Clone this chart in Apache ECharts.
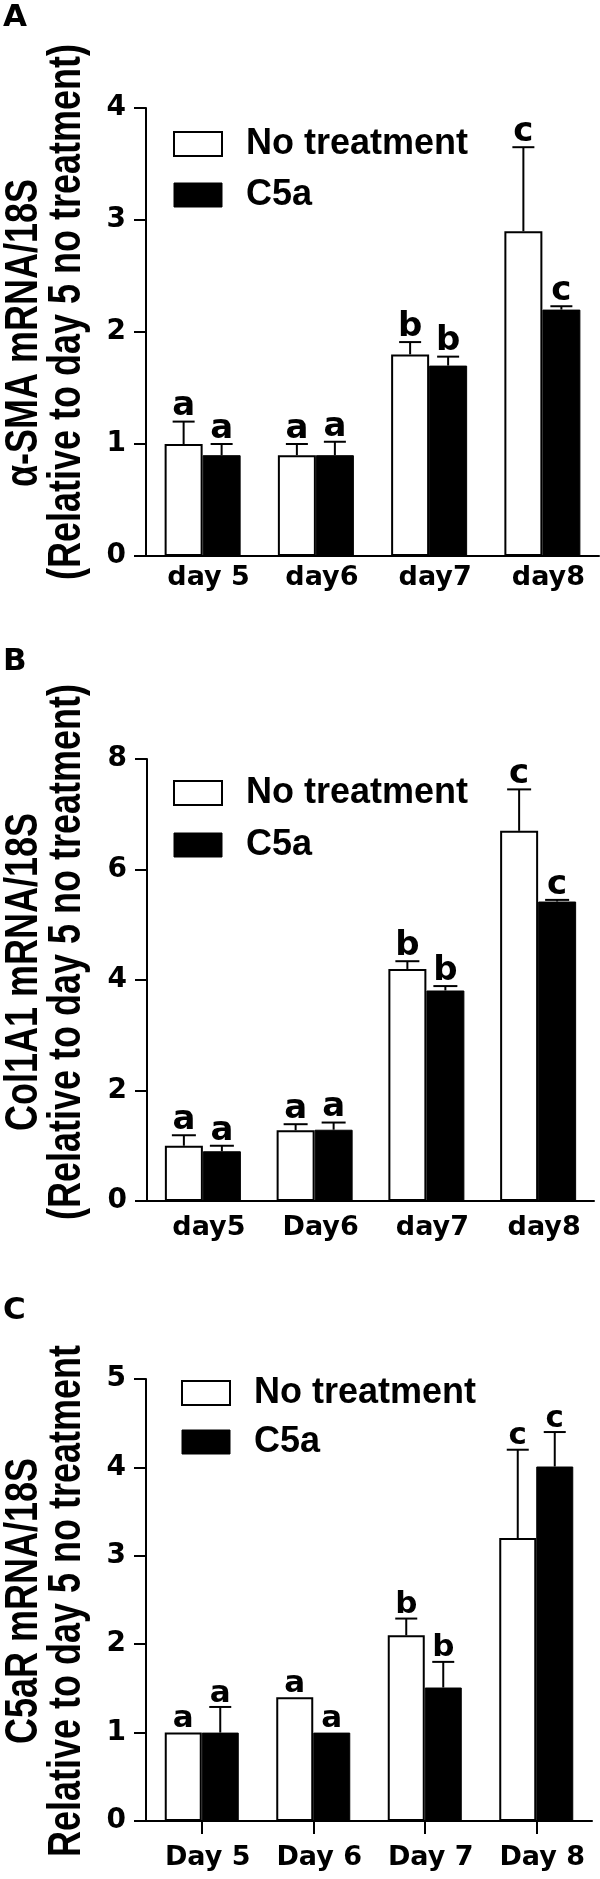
<!DOCTYPE html>
<html><head><meta charset="utf-8">
<script src="https://cdn.jsdelivr.net/npm/echarts@6/dist/echarts.min.js"></script>
<style>html,body{margin:0;padding:0;background:#fff}#c{width:600px;height:1879px}</style>
</head><body><div id="c"></div>
<script>
// ---------------- data ----------------
const seriesNames = ['No treatment', 'C5a'];

const catsA = ['day 5', 'day6', 'day7', 'day8'];
const yTicksA = [0, 1, 2, 3, 4];
const noTreatA = [1.0, 0.9, 1.8, 2.9];
const noTreatSemA = [0.2, 0.1, 0.11, 0.75];
const c5aA = [0.9, 0.9, 1.7, 2.2];
const c5aSemA = [0.1, 0.12, 0.08, 0.03];
const lettersNoTreatA = ['a', 'a', 'b', 'c'];
const lettersC5aA = ['a', 'a', 'b', 'c'];

const catsB = ['day5', 'Day6', 'day7', 'day8'];
const yTicksB = [0, 2, 4, 6, 8];
const noTreatB = [1.0, 1.28, 4.2, 6.7];
const noTreatSemB = [0.19, 0.11, 0.14, 0.75];
const c5aB = [0.9, 1.29, 3.81, 5.42];
const c5aSemB = [0.1, 0.13, 0.08, 0.03];
const lettersNoTreatB = ['a', 'a', 'b', 'c'];
const lettersC5aB = ['a', 'a', 'b', 'c'];

const catsC = ['Day 5', 'Day 6', 'Day 7', 'Day 8'];
const yTicksC = [0, 1, 2, 3, 4, 5];
const noTreatC = [1.0, 1.4, 2.1, 3.2];
const noTreatSemC = [0, 0, 0.19, 1.0];
const c5aC = [1.0, 1.0, 1.51, 4.01];
const c5aSemC = [0.29, 0, 0.29, 0.39];
const lettersNoTreatC = ['a', 'a', 'b', 'c'];
const lettersC5aC = ['a', 'a', 'b', 'c'];

const titlesA = ['\u03b1-SMA mRNA/18S', '(Relative to day 5 no treatment)'];
const titlesB = ['Col1A1 mRNA/18S', '(Relative to day 5 no treatment)'];
const titlesC = ['C5aR mRNA/18S', 'Relative to day 5 no treatment'];
const panelLetters = ['A', 'B', 'C'];

// ---------------- layout ----------------
const FONT = '"Liberation Sans", Arial, Helvetica, sans-serif';
const WIDE = '"DejaVu Sans", Verdana, sans-serif';
const panels = [
  {cats: catsA, ticks: yTicksA, m0: noTreatA, s0: noTreatSemA, m1: c5aA, s1: c5aSemA, l0: lettersNoTreatA, l1: lettersC5aA,
   grid: {left: 146, top: 108, width: 453, height: 448}, barW: 38, xMargin: 8, xTick: false, letterSize: 34, cap: 11,
   legend: {left: 173, top: 126, gap: 15}, titles: titlesA, tY: [333, 312], letterY: 2},
  {cats: catsB, ticks: yTicksB, m0: noTreatB, s0: noTreatSemB, m1: c5aB, s1: c5aSemB, l0: lettersNoTreatB, l1: lettersC5aB,
   grid: {left: 147, top: 759, width: 447, height: 442}, barW: 38, xMargin: 13, xTick: false, letterSize: 34, cap: 12,
   legend: {left: 173, top: 775, gap: 16}, titles: titlesB, tY: [972, 952], letterY: 646},
  {cats: catsC, ticks: yTicksC, m0: noTreatC, s0: noTreatSemC, m1: c5aC, s1: c5aSemC, l0: lettersNoTreatC, l1: lettersC5aC,
   grid: {left: 146, top: 1379, width: 446, height: 442}, barW: 37, xMargin: 23, xTick: true, letterSize: 31, cap: 11,
   legend: {left: 181, top: 1375, gap: 13}, titles: titlesC, tY: [1601, 1601], letterY: 1295}
];

function errRenderer(means, sems, letters, offset, capHalf, fontSize) {
  return function (params, api) {
    const i = params.dataIndex;
    const base = api.coord([i, means[i]]);
    const top = api.coord([i, means[i] + sems[i]]);
    const x = base[0] + offset;
    const children = [];
    if (sems[i] > 0) {
      children.push({type: 'line', shape: {x1: x, y1: base[1], x2: x, y2: top[1]}, style: {stroke: '#000', lineWidth: 2}});
      children.push({type: 'line', shape: {x1: x - capHalf, y1: top[1], x2: x + capHalf, y2: top[1]}, style: {stroke: '#000', lineWidth: 2}});
    }
    children.push({type: 'text', x: x, y: top[1] + 2,
      style: {text: letters[i], textAlign: 'center', textVerticalAlign: 'bottom',
              font: 'bold ' + fontSize + 'px ' + WIDE, fill: '#000'}});
    return {type: 'group', children: children};
  };
}

const grids = [], xAxes = [], yAxes = [], series = [], legends = [], graphics = [];
panels.forEach(function (p, k) {
  grids.push(Object.assign({containLabel: false}, p.grid));
  xAxes.push({
    type: 'category', gridIndex: k, data: p.cats,
    axisLine: {lineStyle: {color: '#000', width: 2}},
    axisTick: {show: p.xTick, alignWithLabel: true, length: 13, lineStyle: {color: '#000', width: 2}},
    axisLabel: {color: '#000', fontSize: 27, fontWeight: 'bold', fontFamily: WIDE, margin: p.xMargin, padding: [0, 0, 0, 12], interval: 0}
  });
  const t = p.ticks;
  yAxes.push({
    type: 'value', gridIndex: k, min: t[0], max: t[t.length - 1], interval: t[1] - t[0],
    axisLine: {show: true, lineStyle: {color: '#000', width: 2}},
    axisTick: {show: true, length: 12, lineStyle: {color: '#000', width: 2}},
    axisLabel: {color: '#000', fontSize: 28, fontWeight: 'bold', fontFamily: WIDE, margin: 20},
    splitLine: {show: false}
  });
  series.push({
    name: seriesNames[0], type: 'bar', xAxisIndex: k, yAxisIndex: k, data: p.m0,
    barWidth: p.barW, barGap: '0%',
    itemStyle: {color: '#fff', borderColor: '#000', borderWidth: 2}, emphasis: {disabled: true}
  });
  series.push({
    name: seriesNames[1], type: 'bar', xAxisIndex: k, yAxisIndex: k, data: p.m1,
    barWidth: p.barW, barGap: '0%',
    itemStyle: {color: '#000', borderColor: '#000', borderWidth: 1}, emphasis: {disabled: true}
  });
  series.push({
    type: 'custom', xAxisIndex: k, yAxisIndex: k, z: 5,
    data: p.m0.map(function (v, i) { return [i, v + p.s0[i]]; }),
    renderItem: errRenderer(p.m0, p.s0, p.l0, -p.barW / 2, p.cap, p.letterSize)
  });
  series.push({
    type: 'custom', xAxisIndex: k, yAxisIndex: k, z: 5,
    data: p.m1.map(function (v, i) { return [i, v + p.s1[i]]; }),
    renderItem: errRenderer(p.m1, p.s1, p.l1, p.barW / 2, p.cap, p.letterSize)
  });
  legends.push({
    orient: 'vertical', left: p.legend.left, top: p.legend.top, padding: 0,
    itemWidth: 48, itemHeight: 24, itemGap: p.legend.gap, selectedMode: false,
    data: [
      {name: seriesNames[0], icon: 'rect', itemStyle: {color: '#fff', borderColor: '#000', borderWidth: 2}},
      {name: seriesNames[1], icon: 'rect', itemStyle: {color: '#000', borderColor: '#000', borderWidth: 1}}
    ],
    textStyle: {color: '#000', fontSize: 36, fontWeight: 'bold', fontFamily: FONT, lineHeight: 36, padding: [0, 0, 0, 19]}
  });
  graphics.push({type: 'text', left: 3, top: p.letterY,
    style: {text: panelLetters[k], font: 'bold 31px ' + WIDE, fill: '#000'}});
  graphics.push({type: 'text', x: 24, y: p.tY[0], rotation: Math.PI / 2, scaleY: 1.3,
    style: {text: p.titles[0], textAlign: 'center', textVerticalAlign: 'middle', font: 'bold 36px ' + FONT, fill: '#000'}});
  graphics.push({type: 'text', x: 67, y: p.tY[1], rotation: Math.PI / 2, scaleY: 1.3,
    style: {text: p.titles[1], textAlign: 'center', textVerticalAlign: 'middle', font: 'bold 36px ' + FONT, fill: '#000'}});
});

const chart = echarts.init(document.getElementById('c'), null, {renderer: 'canvas'});
chart.setOption({
  animation: false,
  backgroundColor: '#fff',
  grid: grids, xAxis: xAxes, yAxis: yAxes, series: series, legend: legends,
  graphic: {elements: graphics}
});
</script>
</body></html>
